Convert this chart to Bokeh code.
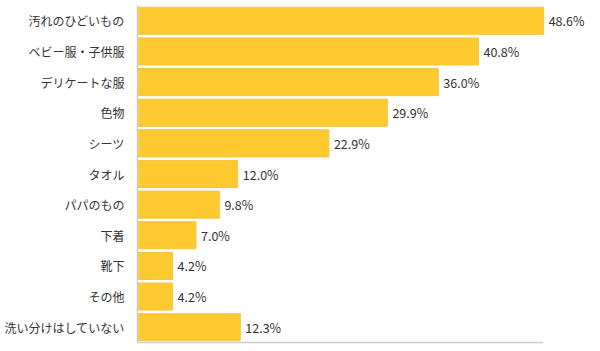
from bokeh.plotting import figure
from bokeh.models import ColumnDataSource, FixedTicker, Range1d
from bokeh.embed import file_html
from bokeh.resources import INLINE
from bokeh.core.properties import value

categories = ["汚れのひどいもの", "ベビー服・子供服", "デリケートな服", "色物", "シーツ",
              "タオル", "パパのもの", "下着", "靴下", "その他", "洗い分けはしていない"]
values = [48.6, 40.8, 36.0, 29.9, 22.9, 12.0, 9.8, 7.0, 4.2, 4.2, 12.3]
labels = ["%.1f%%" % v for v in values]

idx = list(range(len(categories)))
src = ColumnDataSource(dict(y=idx, v=values, lab=labels))

n = len(categories)
p = figure(width=600, height=351, output_backend="svg", toolbar_location=None,
           x_range=Range1d(0, 55.4), y_range=Range1d(n - 0.5, -0.5),
           min_border_left=137, min_border_right=0, min_border_top=5, min_border_bottom=9)
p.outline_line_color = None
p.grid.grid_line_color = None
p.background_fill_color = "white"
p.border_fill_color = "white"

p.hbar(y="y", left=0, right="v", height=0.885, source=src,
       fill_color="#FFCA30", line_color="#F5C440", line_width=1)
p.text(x="v", y="y", text="lab", source=src, x_offset=5,
       text_align="left", text_baseline="middle",
       text_font=value("Noto Sans CJK JP"), text_font_size="12.5px", text_color="#333333")

ya = p.yaxis[0]
ya.ticker = FixedTicker(ticks=idx)
ya.major_label_overrides = {i: c for i, c in zip(idx, categories)}
ya.major_tick_line_color = None
ya.minor_tick_line_color = None
ya.axis_line_color = "#cccccc"
ya.axis_line_width = 1.5
ya.major_label_standoff = 7
ya.major_label_text_font = "Noto Sans CJK JP"
ya.major_label_text_font_size = "12px"
ya.major_label_text_color = "#333333"

xa = p.xaxis[0]
xa.bounds = (0, max(values))
xa.ticker = FixedTicker(ticks=[])
xa.major_tick_line_color = None
xa.minor_tick_line_color = None
xa.major_label_standoff = 0
xa.axis_line_color = "#cccccc"
xa.axis_line_width = 1.5

open("out.html", "w").write(file_html(p, INLINE))
